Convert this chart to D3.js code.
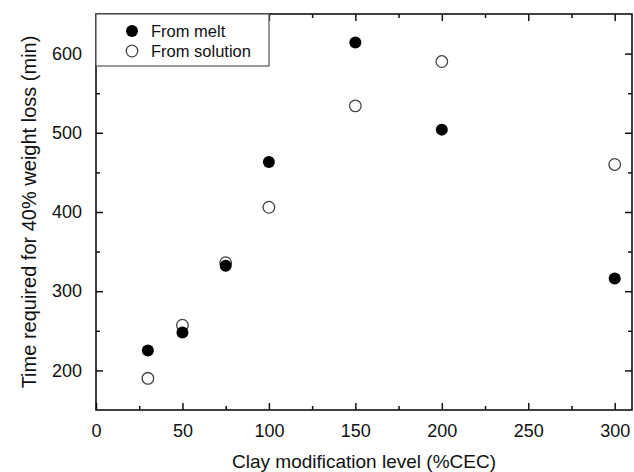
<!DOCTYPE html>
<html>
<head>
<meta charset="utf-8">
<script src="https://cdn.jsdelivr.net/npm/d3@7"></script>
<style>
  body { margin: 0; background: #fff; }
  text { font-family: "Liberation Sans", Arial, sans-serif; fill: #111; }
</style>
</head>
<body>
<div id="chart"></div>
<script>
// data
let levels = [30, 50, 75, 100, 150, 200, 300]
let fromMelt = [225, 248, 332, 463, 614, 504, 316]
let fromSolution = [190, 257, 336, 406, 534, 590, 460]
let xTicks = [0, 50, 100, 150, 200, 250, 300]
let yTicks = [200, 300, 400, 500, 600]
let seriesNames = ["From melt", "From solution"]

let width = 634,
    height = 472
let margin = {left: 96, right: 2, top: 14, bottom: 62}

let svg = d3.select("#chart")
  .append("svg")
  .attr("width", width)
  .attr("height", height)

let x = d3.scaleLinear().domain([0, 310]).range([margin.left, width - margin.right])
let y = d3.scaleLinear().domain([150, 650]).range([height - margin.bottom, margin.top])

let x0 = x.range()[0], x1 = x.range()[1]
let y0 = y.range()[0], y1 = y.range()[1]

let xMinor = d3.range(25, 310, 50)
let yMinor = d3.range(250, 650, 100)

function styleAxis(g) {
  g.select(".domain").remove()
  g.selectAll("line").attr("stroke", "#111").attr("stroke-width", 1.5)
}

// bottom
svg.append("g")
  .attr("transform", "translate(0," + y0 + ")")
  .call(d3.axisBottom(x).tickValues(xTicks).tickSize(-7).tickPadding(14))
  .call(styleAxis)
  .selectAll("text").style("font-size", "18px").attr("fill", "#111")
svg.append("g")
  .attr("transform", "translate(0," + y0 + ")")
  .call(d3.axisBottom(x).tickValues(xMinor).tickSize(-4).tickFormat(""))
  .call(styleAxis)

// top
svg.append("g")
  .attr("transform", "translate(0," + y1 + ")")
  .call(d3.axisTop(x).tickValues(xTicks).tickSize(-7).tickFormat(""))
  .call(styleAxis)
svg.append("g")
  .attr("transform", "translate(0," + y1 + ")")
  .call(d3.axisTop(x).tickValues(xMinor).tickSize(-4).tickFormat(""))
  .call(styleAxis)

// left
svg.append("g")
  .attr("transform", "translate(" + x0 + ",0)")
  .call(d3.axisLeft(y).tickValues(yTicks).tickSize(-7).tickPadding(14))
  .call(styleAxis)
  .selectAll("text").style("font-size", "18px").attr("fill", "#111")
svg.append("g")
  .attr("transform", "translate(" + x0 + ",0)")
  .call(d3.axisLeft(y).tickValues(yMinor).tickSize(-4).tickFormat(""))
  .call(styleAxis)

// right
svg.append("g")
  .attr("transform", "translate(" + x1 + ",0)")
  .call(d3.axisRight(y).tickValues(yTicks).tickSize(-7).tickFormat(""))
  .call(styleAxis)
svg.append("g")
  .attr("transform", "translate(" + x1 + ",0)")
  .call(d3.axisRight(y).tickValues(yMinor).tickSize(-4).tickFormat(""))
  .call(styleAxis)

// frame
svg.append("rect")
  .attr("x", x0).attr("y", y1)
  .attr("width", x1 - x0).attr("height", y0 - y1)
  .attr("fill", "none")
  .attr("stroke", "#111")
  .attr("stroke-width", 1.6)

// points
let melt = levels.map((d, i) => ({x: d, y: fromMelt[i]}))
let sol = levels.map((d, i) => ({x: d, y: fromSolution[i]}))

svg.selectAll(".sol")
  .data(sol)
  .enter()
  .append("circle")
  .attr("cx", d => x(d.x))
  .attr("cy", d => y(d.y))
  .attr("r", 5.8)
  .attr("fill", "white")
  .attr("stroke", "#444")
  .attr("stroke-width", 1.3)

svg.selectAll(".melt")
  .data(melt)
  .enter()
  .append("circle")
  .attr("cx", d => x(d.x))
  .attr("cy", d => y(d.y))
  .attr("r", 6)
  .attr("fill", "#000")

// legend
let lg = svg.append("g")
lg.append("rect")
  .attr("x", x0).attr("y", y1)
  .attr("width", 173).attr("height", 52)
  .attr("fill", "white")
  .attr("stroke", "#555")
  .attr("stroke-width", 1.2)

seriesNames.forEach((name, i) => {
  let cy = y1 + 17 + i * 20
  lg.append("circle")
    .attr("cx", x0 + 36).attr("cy", cy)
    .attr("r", i == 0 ? 6 : 5.8)
    .attr("fill", i == 0 ? "#000" : "white")
    .attr("stroke", i == 0 ? "none" : "#444")
    .attr("stroke-width", 1.3)
  lg.append("text")
    .attr("x", x0 + 55).attr("y", cy + 6)
    .style("font-size", "16.5px")
    .text(name)
})

// axis titles
svg.append("text")
  .attr("x", (x0 + x1) / 2)
  .attr("y", 468)
  .attr("text-anchor", "middle")
  .style("font-size", "19px")
  .text("Clay modification level (%CEC)")

svg.append("text")
  .attr("transform", "translate(36," + (y0 + y1) / 2 + ") rotate(-90)")
  .attr("text-anchor", "middle")
  .style("font-size", "20px")
  .text("Time required for 40% weight loss (min)")
</script>
</body>
</html>
